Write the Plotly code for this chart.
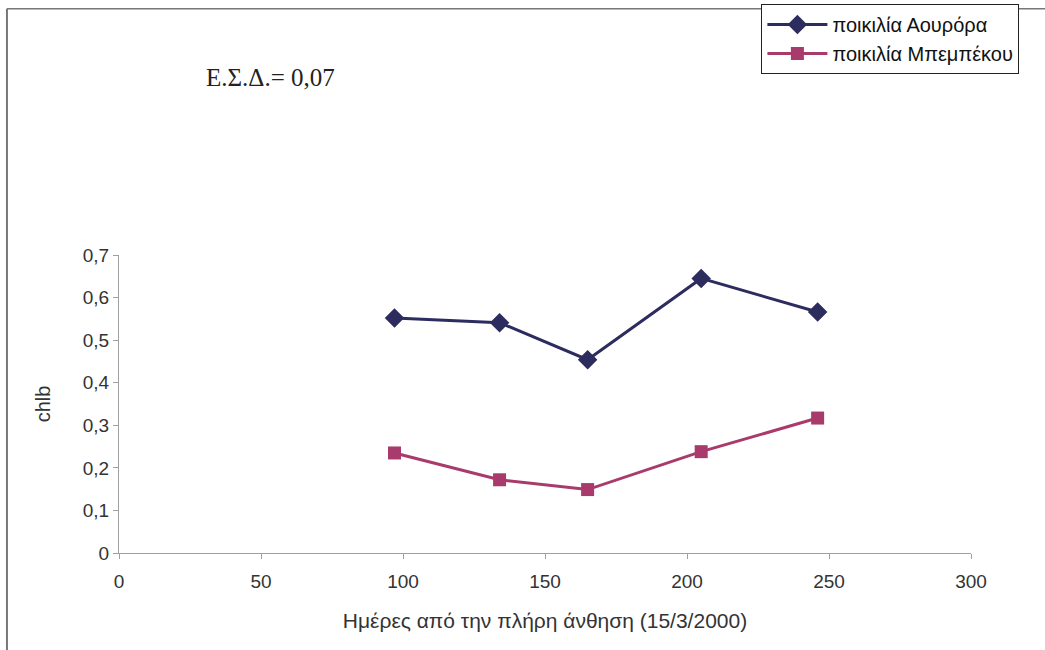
import plotly.graph_objects as go

days = [97, 134, 165, 205, 246]
aurora = [0.552, 0.541, 0.454, 0.645, 0.566]
mpempekou = [0.235, 0.172, 0.149, 0.238, 0.317]
name_aurora = "ποικιλία Αουρόρα"
name_mpempekou = "ποικιλία Μπεμπέκου"
x_title = "Ημέρες από την πλήρη άνθηση (15/3/2000)"
y_title = "chlb"
note = "Ε.Σ.Δ.= 0,07"

navy = "#2c2d5e"
magenta = "#a93b6c"
sans = "Liberation Sans, Arial"

fig = go.Figure()
fig.add_trace(go.Scatter(x=days, y=aurora, name=name_aurora, mode="lines+markers",
                         line=dict(color=navy, width=3),
                         marker=dict(symbol="diamond", size=15, color=navy)))
fig.add_trace(go.Scatter(x=days, y=mpempekou, name=name_mpempekou, mode="lines+markers",
                         line=dict(color=magenta, width=3),
                         marker=dict(symbol="square", size=13, color=magenta)))

axis_common = dict(showgrid=False, zeroline=False, showline=True, linecolor="#a0a0a0",
                   linewidth=1, ticks="outside", ticklen=5, tickcolor="#a0a0a0",
                   tickfont=dict(family=sans, size=19, color="#333333"))

fig.update_layout(
    width=1045, height=650,
    margin=dict(l=119, r=74, t=255, b=97, autoexpand=False),
    paper_bgcolor="white", plot_bgcolor="white",
    separators=",.",
    showlegend=True,
    legend=dict(x=0.754, y=1.842, xanchor="left", yanchor="top",
                bgcolor="white", bordercolor="#222222", borderwidth=1,
                font=dict(family=sans, size=20, color="#111111"),
                itemwidth=60, tracegroupgap=0),
    xaxis=dict(range=[0, 300], tickmode="array", tickvals=[0, 50, 100, 150, 200, 250, 300],
               ticklabelstandoff=6, automargin=False,
               title=dict(text=x_title, standoff=22,
                          font=dict(family=sans, size=21, color="#333333")),
               **axis_common),
    yaxis=dict(range=[0, 0.7], tickmode="array",
               tickvals=[0, 0.1, 0.2, 0.3, 0.4, 0.5, 0.6, 0.7],
               ticktext=["0", "0,1", "0,2", "0,3", "0,4", "0,5", "0,6", "0,7"],
               automargin=False,
               title=dict(text=y_title, standoff=26,
                          font=dict(family=sans, size=20, color="#333333")),
               **axis_common),
    annotations=[dict(text=note, xref="paper", yref="paper", x=0.1, y=1.595,
                      xanchor="left", yanchor="middle", showarrow=False,
                      font=dict(family="Liberation Serif, Times New Roman, serif", size=25,
                                color="#222222"))],
    shapes=[
        dict(type="line", xref="paper", yref="paper", x0=-0.1315, x1=-0.1315, y0=1.826, y1=-0.35,
             line=dict(color="#777777", width=2)),
        dict(type="line", xref="paper", yref="paper", x0=-0.1315, x1=1.09, y0=1.826, y1=1.826,
             line=dict(color="#777777", width=1.5)),
    ],
)

fig.write_html("out.html")
